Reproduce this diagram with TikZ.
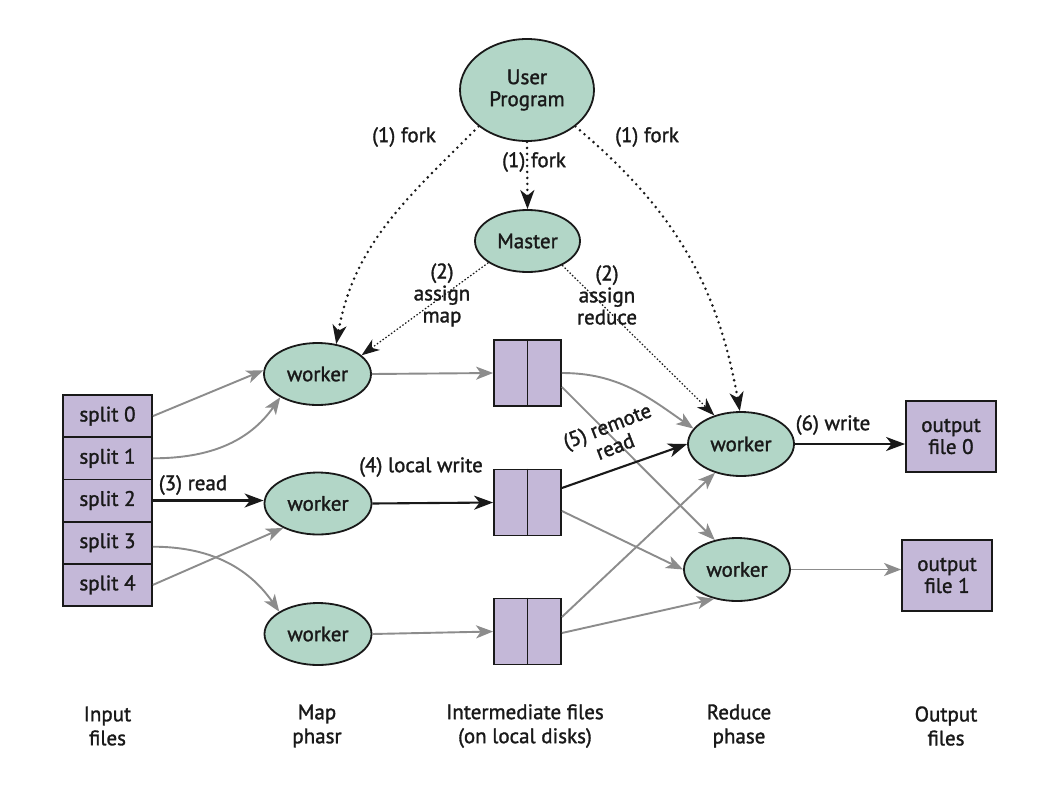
\documentclass[tikz,border=0pt]{standalone}
\usepackage{fontspec}
\setmainfont{PT Sans}
\newfontfamily\dfont{PT Sans}[FakeBold=1.4]
\usetikzlibrary{arrows.meta,shapes.geometric}
\definecolor{gfill}{RGB}{178,214,199}
\definecolor{pfill}{RGB}{196,184,216}
\definecolor{agray}{RGB}{140,140,140}
\definecolor{ink}{RGB}{25,25,25}
\begin{document}
\begin{tikzpicture}[x=1pt,y=-1pt,
  every node/.style={font=\dfont\fontsize{21}{22}\selectfont, text=ink},
  ell/.style={ellipse, draw=ink, line width=1.8pt, fill=gfill, inner sep=0pt, align=center},
  box/.style={rectangle, draw=ink, line width=1.8pt, fill=pfill, inner sep=0pt, align=center},
  garrow/.style={draw=agray, line width=1.9pt, -{Stealth[length=17pt,width=13pt,inset=4.5pt,fill=agray]}},
  barrow/.style={draw=ink, line width=2.1pt, -{Stealth[length=19pt,width=14pt,inset=5.5pt]}},
  forkline/.style={draw=ink, line width=2.8pt, line cap=round, dash pattern=on 0pt off 6pt, -{Stealth[length=19pt,width=14pt,inset=5.5pt,line cap=butt]}},
  assignline/.style={draw=ink, line width=1.2pt, dash pattern=on 1.5pt off 2pt, -{Stealth[length=18pt,width=13pt,inset=5.5pt]}},
  lbl/.style={align=center, inner sep=0pt},
  foot/.style={align=center, inner sep=0pt, font=\dfont\fontsize{21}{24}\selectfont},
]
\fill[white] (0,0) rectangle (1060,787);
\useasboundingbox (0,0) rectangle (1060,787);

% nodes
\node[ell, minimum width=134pt, minimum height=102pt] (UP) at (527,90) {User\\Program};
\node[ell, minimum width=105pt, minimum height=62pt] (M) at (527.5,241) {Master};
\node[ell, minimum width=107pt, minimum height=62pt] (w1) at (317.5,374) {worker};
\node[ell, minimum width=107pt, minimum height=62pt] (w2) at (318,503.5) {worker};
\node[ell, minimum width=107pt, minimum height=62pt] (w3) at (318,634) {worker};
\node[ell, minimum width=106pt, minimum height=64pt] (R0) at (741,444) {worker};
\node[ell, minimum width=106pt, minimum height=63pt] (R1) at (737,569.5) {worker};

\node[box, minimum width=89pt, minimum height=42.2pt] (s0) at (107.5,416.1) {split 0};
\node[box, minimum width=89pt, minimum height=42.2pt] (s1) at (107.5,458.3) {split 1};
\node[box, minimum width=89pt, minimum height=42.2pt] (s2) at (107.5,500.5) {split 2};
\node[box, minimum width=89pt, minimum height=42.2pt] (s3) at (107.5,542.7) {split 3};
\node[box, minimum width=89pt, minimum height=42.2pt] (s4) at (107.5,584.9) {split 4};

\node[box, minimum width=67pt, minimum height=66pt] (i1) at (527.5,373) {};
\node[box, minimum width=67pt, minimum height=66pt] (i2) at (527.5,502.5) {};
\node[box, minimum width=67pt, minimum height=66pt] (i3) at (527.5,631.5) {};
\draw[ink, line width=1.8pt] (i1.north) -- (i1.south);
\draw[ink, line width=1.8pt] (i2.north) -- (i2.south);
\draw[ink, line width=1.8pt] (i3.north) -- (i3.south);

\node[box, minimum width=90pt, minimum height=71pt] (o0) at (951,436.5) {output\\file 0};
\node[box, minimum width=90pt, minimum height=71pt] (o1) at (947,575.5) {output\\file 1};

% input -> map
\draw[garrow] (s0.east) -- (w1.176);
\draw[garrow] (s1.east) to[out=0,in=235] (w1.212);
\draw[barrow] (s2.east) -- (s2.east -| w2.west);
\draw[garrow] ([yshift=-4pt]s3.east) to[out=0,in=125] (w3.150);
\draw[garrow] (s4.east) -- (w2.215);

% map -> intermediate
\draw[garrow] (w1.east) -- (i1.west);
\draw[barrow] (w2.east) -- (i2.west);
\draw[garrow] (w3.east) -- (i3.west);

% intermediate -> reduce
\draw[garrow] (i1.east) to[out=0,in=145] (R0.162);
\draw[garrow] ([yshift=-14pt]i1.east) -- (R1.127);
\draw[barrow] ([yshift=14.5pt]i2.east) -- (R0.west);
\draw[garrow] ([yshift=-8.5pt]i2.east) -- (R1.west);
\draw[garrow] ([yshift=14.5pt]i3.east) -- (R0.228);
\draw[garrow] ([yshift=-1.5pt]i3.east) -- (R1.232);

% reduce -> output
\draw[barrow] (R0.east) -- (R0.east -| o0.west);
\draw[garrow] (R1.east) -- (R1.east -| o1.west);

% fork
\draw[forkline] (UP.217) to[out=225,in=80] (w1.58);
\draw[forkline] (UP.south) -- (M.north);
\draw[forkline] (UP.323) to[out=-40,in=100] (R0.92);

% assign
\draw[assignline] (M.209) -- (w1.23);
\draw[assignline] (M.325) -- (R0.133);

% labels
\node[lbl] (lf1) at (404,137) {(1) fork};
\node[lbl] (lf2) at (534,162) {(1) fork};
\node[lbl] (lf3) at (647,137) {(1) fork};
\node[lbl] (la1) at (442,295) {(2)\\assign\\map};
\node[lbl] (la2) at (607,295) {(2)\\assign\\reduce};
\node[lbl] (lr) at (193,485) {(3) read};
\node[lbl] (lw) at (421,467) {(4) local write};
\node[lbl, rotate=21] (lrr) at (611,436) {(5) remote\\read};
\node[lbl] (lw6) at (833,425) {(6) write};

\node[foot] (f1) at (107.5,726) {Input\\files};
\node[foot] (f2) at (317,726) {Map\\phasr};
\node[foot] (f3) at (525,726) {Intermediate files\\(on local disks)};
\node[foot] (f4) at (739,726) {Reduce\\phase};
\node[foot] (f5) at (946,726) {Output\\files};
\end{tikzpicture}
\end{document}
